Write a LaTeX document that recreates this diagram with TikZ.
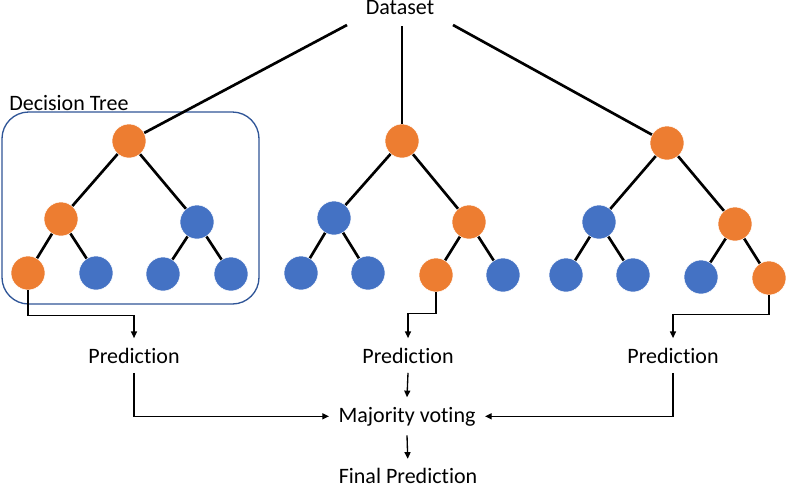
\documentclass[tikz,border=0pt]{standalone}
\usepackage{fontspec}
\setmainfont{Carlito}[Ligatures={NoCommon}]
\usetikzlibrary{arrows.meta}
\definecolor{orng}{HTML}{ED7D31}
\definecolor{blu}{HTML}{4472C4}
\definecolor{boxblue}{HTML}{2F5597}
\tikzset{
  onode/.style={circle,fill=orng,draw=white,line width=0.4pt,minimum size=25.5pt,inner sep=0pt},
  bnode/.style={circle,fill=blu,draw=white,line width=0.4pt,minimum size=25.5pt,inner sep=0pt},
  edge/.style={line width=2pt,black},
  arr/.style={line width=1pt,black,-{Triangle[length=5pt,width=4.5pt]}},
  lbl/.style={font=\fontsize{16.5}{19}\selectfont,inner xsep=7pt,inner ysep=7pt},
}
\begin{document}
\begin{tikzpicture}[x=0.75pt,y=-0.75pt]
\useasboundingbox (0,0) rectangle (787,487);
% decision tree frame
\draw[boxblue,line width=1pt,rounded corners=20] (2,112) rectangle (259,304);
\node[lbl,anchor=base west,inner xsep=0pt,inner ysep=1pt] (dtl) at (9,110) {Decision Tree};
% dataset
\node[lbl,anchor=base,inner ysep=0.5pt] (ds) at (400,14.5) {Dataset};
\coordinate (dsL) at (347,25);
\coordinate (dsM) at (402,26);
\coordinate (dsR) at (453,25);
% tree 1
\node[onode] (a0) at (129,141) {};
\node[onode] (a1) at (61,219) {};
\node[bnode] (a2) at (197,222) {};
\node[onode] (a3) at (28,273) {};
\node[bnode] (a4) at (96,273) {};
\node[bnode] (a5) at (163,274) {};
\node[bnode] (a6) at (231,274) {};
% tree 2
\node[onode] (b0) at (402,141) {};
\node[bnode] (b1) at (334,218) {};
\node[onode] (b2) at (469,222) {};
\node[bnode] (b3) at (301,273) {};
\node[bnode] (b4) at (368,273) {};
\node[onode] (b5) at (436,275) {};
\node[bnode] (b6) at (503,275) {};
% tree 3
\node[onode] (c0) at (667,143) {};
\node[bnode] (c1) at (599,222) {};
\node[onode] (c2) at (735,224) {};
\node[bnode] (c3) at (566,275) {};
\node[bnode] (c4) at (633,275) {};
\node[bnode] (c5) at (701,277) {};
\node[onode] (c6) at (769,278) {};
% edges
\foreach \t in {a,b,c}{
  \draw[edge] (\t0) -- (\t1);
  \draw[edge] (\t0) -- (\t2);
  \draw[edge] (\t1) -- (\t3);
  \draw[edge] (\t1) -- (\t4);
  \draw[edge] (\t2) -- (\t5);
  \draw[edge] (\t2) -- (\t6);
}
\draw[edge] (dsL) -- (a0);
\draw[edge] (dsM) -- (b0);
\draw[edge] (dsR) -- (c0);
% labels
\node[lbl,anchor=base] (p1) at (134,363) {Prediction};
\node[lbl,anchor=base] (p2) at (408,363) {Prediction};
\node[lbl,anchor=base] (p3) at (673,363) {Prediction};
\node[lbl,anchor=base] (mv) at (407,422) {Majority voting};
\node[lbl,anchor=base,inner ysep=0.5pt] (fp) at (408,483) {Final Prediction};
% arrows
\draw[arr] (a3.south) -- ++(0,25) -| (p1.north);
\draw[arr] (b5.south) -- ++(0,21) -| (p2.north);
\draw[arr] (c6.south) -- ++(0,19) -| (p3.north);
\draw[arr] (p1.south) |- (mv.west);
\draw[arr] (p3.south) |- (mv.east);
\draw[arr] (p2.south) -- (mv.north);
\draw[arr,shorten >=6pt] (mv.south) -- (fp.north);
\end{tikzpicture}
\end{document}
